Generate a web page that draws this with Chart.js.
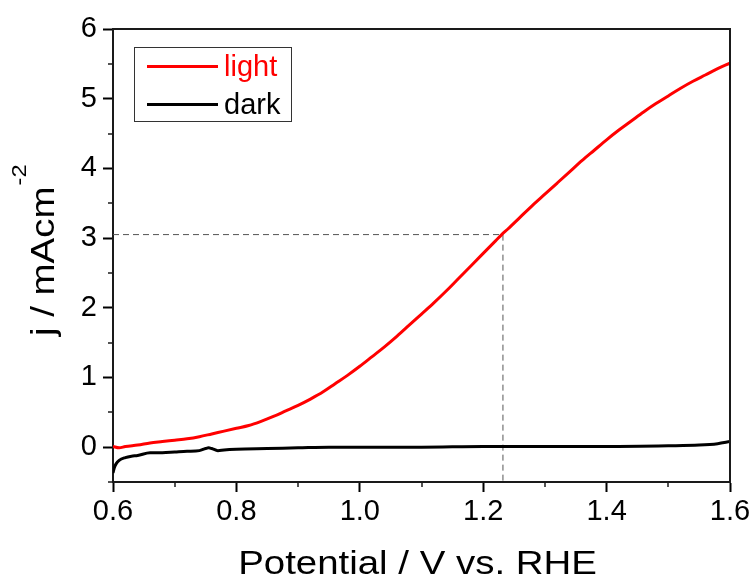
<!DOCTYPE html>
<html><head><meta charset="utf-8">
<script src="https://cdn.jsdelivr.net/npm/chart.js@4/dist/chart.umd.min.js"></script>
<style>html,body{margin:0;padding:0;background:#fff}#wrap{width:755px;height:581px}</style>
</head><body><div id="wrap"><canvas id="c" width="755" height="581"></canvas></div>
<script>
// ---- data ----
const lightV = [0.60,0.61,0.62,0.64,0.66,0.68,0.70,0.72,0.74,0.76,0.78,0.80,0.82,0.84,0.86,0.88,0.90,0.92,0.94,0.96,0.98,1.00,1.02,1.04,1.06,1.08,1.10,1.12,1.14,1.16,1.18,1.20,1.22,1.23,1.24,1.26,1.28,1.30,1.32,1.34,1.36,1.38,1.40,1.42,1.44,1.46,1.48,1.50,1.52,1.54,1.56,1.58,1.60];
const lightJ = [0.01,-0.01,0.01,0.03,0.06,0.08,0.10,0.12,0.15,0.19,0.23,0.27,0.31,0.37,0.44,0.52,0.60,0.69,0.79,0.91,1.03,1.16,1.30,1.44,1.59,1.75,1.91,2.07,2.24,2.42,2.60,2.78,2.96,3.05,3.13,3.30,3.47,3.63,3.79,3.95,4.11,4.26,4.41,4.55,4.68,4.81,4.93,5.04,5.15,5.25,5.34,5.43,5.51];
const darkV = [0.600,0.602,0.605,0.61,0.62,0.63,0.64,0.66,0.68,0.70,0.72,0.74,0.75,0.755,0.76,0.77,0.78,0.80,0.85,0.90,0.95,1.00,1.10,1.20,1.30,1.40,1.50,1.55,1.58,1.60];
const darkJ = [-0.37,-0.30,-0.24,-0.19,-0.15,-0.13,-0.12,-0.08,-0.08,-0.07,-0.06,-0.05,-0.02,-0.01,-0.02,-0.05,-0.04,-0.03,-0.02,-0.01,0.00,0.00,0.00,0.01,0.01,0.01,0.02,0.03,0.05,0.08];
const guideV = [0.6, 1.232, 1.232];
const guideJ = [3.05, 3.05, -0.5];
const xTickLabels = [0.6, 0.8, 1.0, 1.2, 1.4, 1.6];
const yTickLabels = [0, 1, 2, 3, 4, 5, 6];
const seriesNames = ['light', 'dark'];
const xTitle = 'Potential / V vs. RHE';
const yTitle = 'j / mAcm';
const yTitleSup = '-2';

const FONT = '"Liberation Sans", Arial, sans-serif';
const pts = (xs, ys) => xs.map((x, i) => ({x: x, y: ys[i]}));
const isLabeled = (arr, v) => arr.some(t => Math.abs(t - v) < 1e-6);

const decor = {
  id: 'decor',
  afterDraw(chart) {
    const ctx = chart.ctx, a = chart.chartArea;
    const xs = chart.scales.x, ys = chart.scales.y;
    ctx.save();
    // top and right frame
    ctx.strokeStyle = '#1a1a1a'; ctx.lineWidth = 2;
    ctx.beginPath();
    ctx.moveTo(a.left, a.top); ctx.lineTo(a.right, a.top); ctx.lineTo(a.right, a.bottom);
    ctx.stroke();
    // minor ticks
    ctx.lineWidth = 1.5;
    xs.ticks.forEach(t => {
      if (!isLabeled(xTickLabels, t.value)) {
        const p = Math.round(xs.getPixelForValue(t.value));
        ctx.beginPath(); ctx.moveTo(p, a.bottom); ctx.lineTo(p, a.bottom + 5); ctx.stroke();
      }
    });
    ys.ticks.forEach(t => {
      if (!isLabeled(yTickLabels, t.value)) {
        const p = Math.round(ys.getPixelForValue(t.value));
        ctx.beginPath(); ctx.moveTo(a.left, p); ctx.lineTo(a.left - 5, p); ctx.stroke();
      }
    });
    // legend
    const lx = 134.5, ly = 47.5, lw = 157, lh = 74;
    ctx.strokeStyle = '#333'; ctx.lineWidth = 1;
    ctx.strokeRect(lx, ly, lw, lh);
    const rows = [66.5, 104.5];
    chart.data.datasets.filter(d => seriesNames.includes(d.label)).forEach((d, i) => {
      ctx.strokeStyle = d.borderColor; ctx.lineWidth = 3;
      ctx.beginPath(); ctx.moveTo(147, rows[i]); ctx.lineTo(218, rows[i]); ctx.stroke();
      ctx.fillStyle = d.borderColor;
      ctx.font = '29px ' + FONT; ctx.textBaseline = 'middle'; ctx.textAlign = 'left';
      ctx.fillText(d.label, 224, rows[i] + 1);
    });
    // x title
    ctx.fillStyle = '#000';
    ctx.font = '34px ' + FONT; ctx.textBaseline = 'alphabetic';
    ctx.save();
    ctx.translate((a.left + a.right) / 2 - 4, 574);
    ctx.scale(1.13, 1);
    ctx.textAlign = 'center';
    ctx.fillText(xTitle, 0, 0);
    ctx.restore();
    // y title with superscript
    ctx.save();
    ctx.translate(54, 336);
    ctx.rotate(-Math.PI / 2);
    ctx.scale(1.13, 1);
    ctx.textAlign = 'left';
    ctx.font = '34px ' + FONT;
    ctx.fillText(yTitle, 0, 0);
    const w = ctx.measureText(yTitle).width;
    ctx.font = '21px ' + FONT;
    ctx.fillText(yTitleSup, w + 1, -28);
    ctx.restore();
    ctx.restore();
  }
};

new Chart(document.getElementById('c'), {
  type: 'line',
  data: {
    datasets: [
      {label: 'guide', data: pts(guideV, guideJ), borderColor: '#555', borderWidth: 1, borderDash: [6, 4], pointRadius: 0, tension: 0, order: 3},
      {label: seriesNames[0], data: pts(lightV, lightJ), borderColor: '#ff0000', borderWidth: 3, pointRadius: 0, cubicInterpolationMode: 'monotone', order: 2},
      {label: seriesNames[1], data: pts(darkV, darkJ), borderColor: '#000000', borderWidth: 3, pointRadius: 0, cubicInterpolationMode: 'monotone', order: 1}
    ]
  },
  options: {
    responsive: false, animation: false, devicePixelRatio: 1,
    layout: {padding: {left: 0, top: 29, right: 25, bottom: 0}},
    plugins: {legend: {display: false}, tooltip: {enabled: false}},
    scales: {
      x: {
        type: 'linear', min: 0.6, max: 1.6,
        afterFit(s) { s.height = 99; },
        ticks: {stepSize: 0.1, autoSkip: false, maxRotation: 0, padding: 3, color: '#000',
          font: {family: FONT, size: 29},
          callback: v => isLabeled(xTickLabels, v) ? Number(v).toFixed(1) : ''},
        grid: {display: true, drawOnChartArea: false, drawTicks: true, tickLength: 10, tickWidth: 2,
          tickColor: c => (c.tick && isLabeled(xTickLabels, c.tick.value)) ? '#000' : 'rgba(0,0,0,0)'},
        border: {display: true, color: '#1a1a1a', width: 2}
      },
      y: {
        type: 'linear', min: -0.5, max: 6,
        afterFit(s) { s.width = 113; },
        ticks: {stepSize: 0.5, autoSkip: false, padding: 6, color: '#000',
          font: {family: FONT, size: 29},
          callback: v => isLabeled(yTickLabels, v) ? String(Math.round(v)) : ''},
        grid: {display: true, drawOnChartArea: false, drawTicks: true, tickLength: 10, tickWidth: 2,
          tickColor: c => (c.tick && isLabeled(yTickLabels, c.tick.value)) ? '#000' : 'rgba(0,0,0,0)'},
        border: {display: true, color: '#1a1a1a', width: 2}
      }
    }
  },
  plugins: [decor]
});
</script></body></html>
